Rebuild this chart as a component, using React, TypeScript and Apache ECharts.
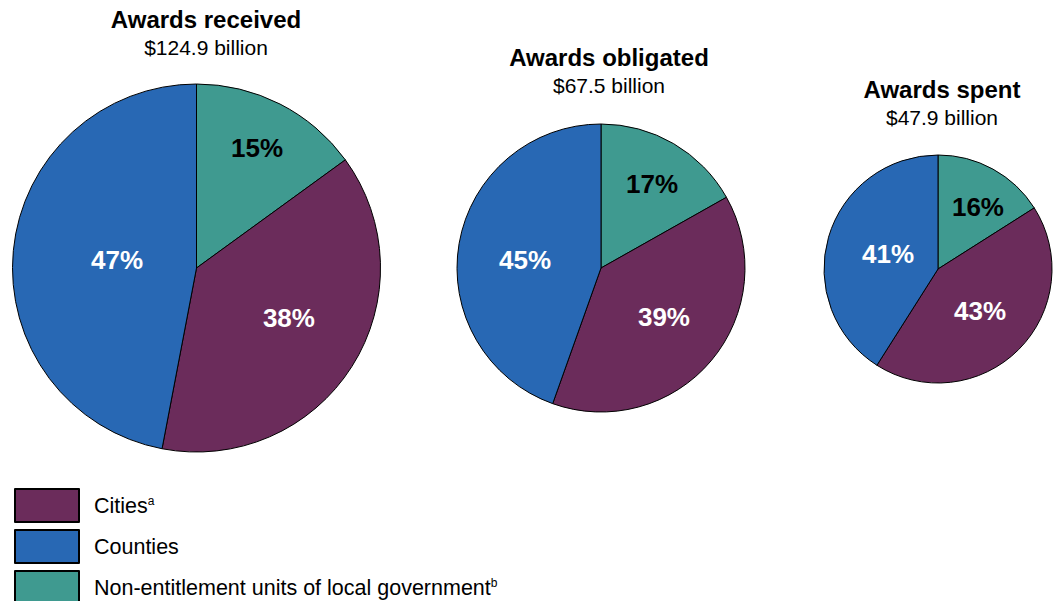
import React, { useEffect, useRef } from "react";
import * as echarts from "echarts";

const categories = ["Cities", "Counties", "Non-entitlement units of local government"];
const superscripts = ["a", "", "b"];
const pieTitles = ["Awards received", "Awards obligated", "Awards spent"];
const pieTotals = ["$124.9 billion", "$67.5 billion", "$47.9 billion"];
// percent shares per pie, in category order: Cities, Counties, Non-entitlement
const citiesShare = [38, 39, 43];
const countiesShare = [47, 45, 41];
const nonEntShare = [15, 17, 16];

const colors: Record<string, string> = {
  Cities: "#6b2c5b",
  Counties: "#2868b4",
  "Non-entitlement units of local government": "#3f9a90",
};
const labelColors: Record<string, string> = {
  Cities: "#ffffff",
  Counties: "#ffffff",
  "Non-entitlement units of local government": "#000000",
};

// layout (styling)
const FONT = "Liberation Sans, Arial, sans-serif";
const pieCenters: [number, number][] = [[196.5, 268], [601, 268], [938, 269]];
const pieRadii = [184, 144, 114];
const titleX = [206, 609, 942];
const titleTop = [7, 45, 77];
// label placement per pie as [radius fraction, angle from top in degrees], order: non-ent, cities, counties
const labelPolar: [number, number][][] = [
  [[0.73, 26.8], [0.571, 118.4], [0.434, 275.7]],
  [[0.683, 31.3], [0.554, 127.9], [0.53, 276]],
  [[0.647, 32.8], [0.521, 135], [0.458, 286.7]],
];

export default function App() {
  const ref = useRef<HTMLDivElement>(null);
  useEffect(() => {
    if (!ref.current) return;
    const chart = echarts.init(ref.current, undefined, { renderer: "svg" });
    const series = pieTitles.map((t, i) => {
      const data = [
        { name: categories[2], value: nonEntShare[i] },
        { name: categories[0], value: citiesShare[i] },
        { name: categories[1], value: countiesShare[i] },
      ].map((d) => ({
        ...d,
        itemStyle: { color: colors[d.name] },
        label: { color: labelColors[d.name] },
      }));
      return {
        type: "pie",
        name: t,
        center: pieCenters[i],
        radius: pieRadii[i],
        startAngle: 90,
        clockwise: true,
        data,
        itemStyle: { borderColor: "#000", borderWidth: 1 },
        label: {
          show: true,
          position: "inside",
          formatter: "{c}%",
          fontSize: 26,
          fontWeight: "bold",
          fontFamily: FONT,
        },
        labelLine: { show: false },
        emphasis: { disabled: true },
        labelLayout: (params: any) => {
          const [cx, cy] = pieCenters[i];
          const [f, deg] = labelPolar[i][params.dataIndex];
          const a = (deg * Math.PI) / 180;
          const rr = f * pieRadii[i];
          return { x: cx + rr * Math.sin(a), y: cy - rr * Math.cos(a), align: "center", verticalAlign: "middle" };
        },
      };
    });
    chart.setOption({
      animation: false,
      textStyle: { fontFamily: FONT },
      title: pieTitles.map((t, i) => ({
        text: t,
        subtext: pieTotals[i],
        left: titleX[i],
        top: titleTop[i],
        textAlign: "center",
        padding: 0,
        itemGap: 6,
        textStyle: { fontSize: 24, fontWeight: "bold", color: "#000", fontFamily: FONT },
        subtextStyle: { fontSize: 21, color: "#000", fontFamily: FONT },
      })),
      legend: {
        data: categories,
        orient: "vertical",
        left: 14,
        top: 488,
        padding: 0,
        itemWidth: 64,
        itemHeight: 33,
        itemGap: 6,
        icon: "rect",
        selectedMode: false,
        formatter: (name: string) => {
          const idx = categories.indexOf(name);
          const s = superscripts[idx];
          return s ? `${name}{sup|${s}}` : name;
        },
        textStyle: {
          fontSize: 21.5,
          color: "#000",
          padding: [0, 0, 0, 10],
          fontFamily: FONT,
          rich: {
            sup: { fontSize: 12, color: "#000", verticalAlign: "top", padding: [0, 0, 8, 0], fontFamily: FONT },
          },
        },
      },
      series,
    } as any);
    return () => chart.dispose();
  }, []);
  return <div ref={ref} style={{ position: "fixed", left: 0, top: 0, width: 1058, height: 640, background: "#fff" }} />;
}
